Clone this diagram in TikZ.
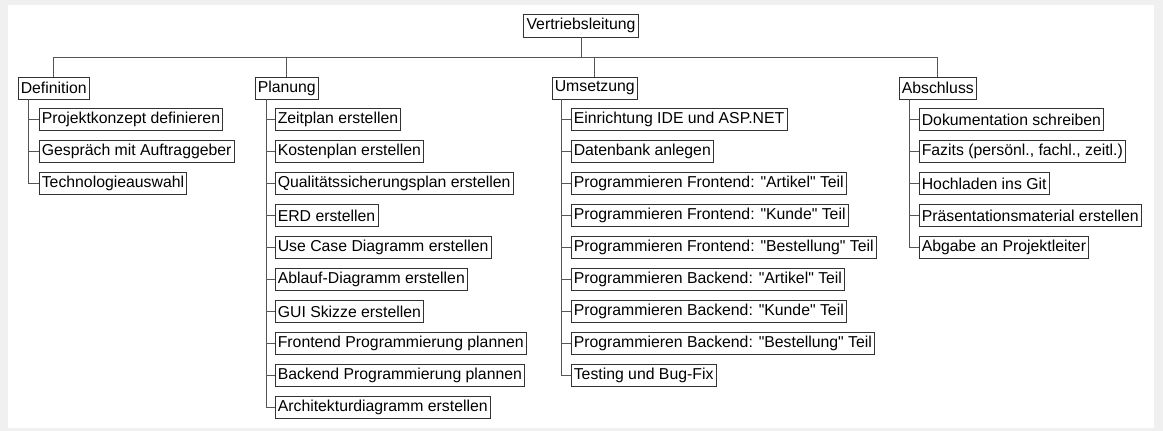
\documentclass[tikz,border=0pt]{standalone}
\usepackage{fontspec}
% keep " as a straight quote
\setmainfont{Liberation Sans}[Ligatures=TeXOff]
\begin{document}
\begin{tikzpicture}[x=1pt,y=-1pt,
  box/.style={draw=boxline, fill=white, line width=1pt, inner xsep=2.8pt, inner ysep=0pt,
              minimum height=22pt, outer sep=0pt, text=black,
              font=\fontsize{15.8}{18}\selectfont},
  phase/.style={box},
  leaf/.style={box},
  link/.style={draw=linkline, line width=1pt}]
\definecolor{boxline}{HTML}{333333}
\definecolor{linkline}{HTML}{555555}
\definecolor{pagegray}{HTML}{F0F0F0}

% page and panel
\fill[pagegray] (0,0) rectangle (1163,431);
\fill[white] (8,5) rectangle (1154,428);
\useasboundingbox (0,0) rectangle (1163,431);

% root
\node[box, minimum height=23pt] (root) at (581,25.5) {Vertriebsleitung};
\coordinate (bus) at (581,57);
\draw[link] (root.south) -- (bus);

% one branch: name, label, box x, rail x, child x, children
\newcommand\wbsbranch[6]{%
  \node[phase, anchor=west] (#1) at (#3,88) {#2};
  \draw[link] (#1.north) |- (bus);
  \coordinate (#1-rail) at (#4,99);
  \foreach \t [count=\i] in {#6} {
    \node[leaf, anchor=west] (#1-\i) at (#5,119.5+32*\i-32) {\t};
    \draw[link] (#1-\i.west) -- (#1-\i.west -| #1-rail);
    \xdef\lastchild{\i}
  }
  \draw[link] (#1.south -| #1-rail) -- (#1-\lastchild.west -| #1-rail);
}

\wbsbranch{def}{Definition}{18}{28}{39}{%
  Projektkonzept definieren,
  Gespräch mit Auftraggeber,
  Technologieauswahl}

\wbsbranch{plan}{Planung}{255}{266}{275}{%
  Zeitplan erstellen,
  Kostenplan erstellen,
  Qualitätssicherungsplan erstellen,
  ERD erstellen,
  Use Case Diagramm erstellen,
  Ablauf-Diagramm erstellen,
  GUI Skizze erstellen,
  Frontend Programmierung plannen,
  Backend Programmierung plannen,
  Architekturdiagramm erstellen}

\wbsbranch{ums}{Umsetzung}{552}{561.5}{571}{%
  Einrichtung IDE und ASP.NET,
  Datenbank anlegen,
  Programmieren Frontend: "Artikel" Teil,
  Programmieren Frontend: "Kunde" Teil,
  Programmieren Frontend: "Bestellung" Teil,
  Programmieren Backend: "Artikel" Teil,
  Programmieren Backend: "Kunde" Teil,
  Programmieren Backend: "Bestellung" Teil,
  Testing und Bug-Fix}

\wbsbranch{abs}{Abschluss}{899}{909}{919}{%
  Dokumentation schreiben,
  {Fazits (persönl., fachl., zeitl.)},
  Hochladen ins Git,
  Präsentationsmaterial erstellen,
  Abgabe an Projektleiter}
\end{tikzpicture}
\end{document}
